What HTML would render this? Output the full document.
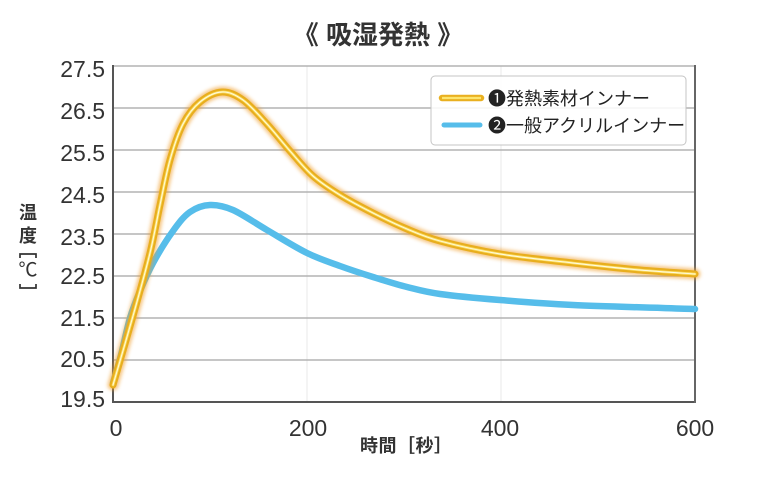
<!DOCTYPE html>
<html>
<head>
<meta charset="utf-8">
<style>
html,body{margin:0;padding:0;background:#fff;}
body{width:758px;height:482px;overflow:hidden;position:relative;}
svg{position:absolute;left:0;top:0;}
</style>
</head>
<body>
<svg width="758" height="482" viewBox="0 0 758 482" xmlns="http://www.w3.org/2000/svg">
  <defs>
    <filter id="glow" x="-10%" y="-10%" width="120%" height="120%">
      <feGaussianBlur stdDeviation="1.8"/>
    </filter>
    <path id="gp" d="M113,385 C116.3,373.5 126.8,338 133,316 C139.2,294 145.5,271.5 150,253 C154.5,234.5 156.7,220.5 160,205 C163.3,189.5 166.2,173.5 170,160 C173.8,146.5 178,133.7 183,124 C188,114.3 193.5,107.3 200,102 C206.5,96.7 214.8,92.3 222,92 C229.2,91.7 235.5,94.7 243,100 C250.5,105.3 259.2,115.5 267,124 C274.8,132.5 282.3,142.3 290,151 C297.7,159.7 304.7,168.7 313,176 C321.3,183.3 330,188.8 340,195 C350,201.2 361.8,207.3 373,213 C384.2,218.7 395.8,224.3 407,229 C418.2,233.7 424.5,236.8 440,241 C455.5,245.2 477.8,250.3 500,254 C522.2,257.7 549.7,260.3 573,263 C596.3,265.7 619.7,268.2 640,270 C660.3,271.8 685.8,273.3 695,274"/>
  </defs>

  <!-- Title -->
  <text x="378" y="44" text-anchor="middle" font-family="'Liberation Sans','Noto Sans CJK JP',sans-serif" font-size="26" font-weight="bold" fill="#333">《 吸湿発熱 》</text>

  <!-- vertical faint grid -->
  <line x1="307" y1="66" x2="307" y2="402" stroke="#e8e8e8" stroke-width="1"/>
  <line x1="501" y1="66" x2="501" y2="402" stroke="#e8e8e8" stroke-width="1"/>

  <!-- horizontal grid -->
  <g stroke="#b3b3b3" stroke-width="1.6">
    <line x1="113" y1="66" x2="695" y2="66"/>
    <line x1="113" y1="108" x2="695" y2="108"/>
    <line x1="113" y1="150" x2="695" y2="150"/>
    <line x1="113" y1="192" x2="695" y2="192"/>
    <line x1="113" y1="234" x2="695" y2="234"/>
    <line x1="113" y1="276" x2="695" y2="276"/>
    <line x1="113" y1="318" x2="695" y2="318"/>
    <line x1="113" y1="360" x2="695" y2="360"/>
  </g>

  <!-- axes -->
  <line x1="113" y1="65" x2="113" y2="403" stroke="#555" stroke-width="2"/>
  <line x1="112" y1="402" x2="696" y2="402" stroke="#555" stroke-width="2"/>
  <line x1="695" y1="65" x2="695" y2="403" stroke="#666" stroke-width="2"/>

  <!-- legend box -->
  <rect x="431" y="76" width="255" height="69" rx="4" ry="4" fill="rgba(255,255,255,0.88)" stroke="#c4c4c4" stroke-width="1"/>
  <line x1="442" y1="98" x2="481" y2="98" stroke="#f0a030" stroke-width="10" stroke-linecap="round" opacity="0.6" filter="url(#glow)"/>
  <line x1="442" y1="98" x2="481" y2="98" stroke="#e9b020" stroke-width="6.5" stroke-linecap="round"/>
  <line x1="442" y1="98" x2="481" y2="98" stroke="#fde56e" stroke-width="2.2"/>
  <line x1="444" y1="125" x2="480" y2="125" stroke="#56bdea" stroke-width="5" stroke-linecap="round"/>
  <text x="488" y="105" font-family="'Liberation Sans','Noto Sans CJK JP',sans-serif" font-size="18" fill="#222">❶発熱素材インナー</text>
  <text x="488" y="132" font-family="'Liberation Sans','Noto Sans CJK JP',sans-serif" font-size="18" fill="#222">❷一般アクリルインナー</text>

  <!-- Blue series -->
  <path d="M113,383 C114.3,378.3 118.2,365.8 121,355 C123.8,344.2 126.8,328.7 130,318 C133.2,307.3 136.2,300.2 140,291 C143.8,281.8 147.5,273 153,263 C158.5,253 166.8,239.5 173,231 C179.2,222.5 183.8,216.3 190,212 C196.2,207.7 202.8,205.3 210,205 C217.2,204.7 223.5,205.8 233,210 C242.5,214.2 254.7,222.8 267,230 C279.3,237.2 294.8,247 307,253 C319.2,259 329,262 340,266 C351,270 361.8,273.5 373,277 C384.2,280.5 395.8,284.2 407,287 C418.2,289.8 424.5,291.8 440,294 C455.5,296.2 477.8,298.2 500,300 C522.2,301.8 540.5,303.5 573,305 C605.5,306.5 674.7,308.3 695,309"
        fill="none" stroke="#56bdea" stroke-width="6.5" stroke-linecap="round" stroke-linejoin="round"/>

  <!-- Gold series -->
  <g fill="none" stroke-linecap="round" stroke-linejoin="round">
    <use href="#gp" stroke="#f0a030" stroke-width="11" opacity="0.6" filter="url(#glow)"/>
    <use href="#gp" stroke="#e8ae1e" stroke-width="7"/>
    <use href="#gp" stroke="#fbe066" stroke-width="2.6"/>
    <use href="#gp" stroke="#fffbe6" stroke-width="0.9"/>
  </g>

  <!-- Y tick labels -->
  <g font-family="'Liberation Sans',sans-serif" font-size="23" fill="#333" text-anchor="end">
    <text x="105" y="77">27.5</text>
    <text x="105" y="119">26.5</text>
    <text x="105" y="161">25.5</text>
    <text x="105" y="203">24.5</text>
    <text x="105" y="245">23.5</text>
    <text x="105" y="284">22.5</text>
    <text x="105" y="326">21.5</text>
    <text x="105" y="367">20.5</text>
    <text x="105" y="407">19.5</text>
  </g>

  <!-- X tick labels -->
  <g font-family="'Liberation Sans',sans-serif" font-size="23" fill="#333" text-anchor="middle">
    <text x="116" y="436">0</text>
    <text x="308" y="436">200</text>
    <text x="500" y="436">400</text>
    <text x="695" y="436">600</text>
  </g>

  <!-- X axis title -->
  <text x="360" y="452" font-family="'Liberation Sans','Noto Sans CJK JP',sans-serif" font-size="18" font-weight="bold" letter-spacing="0.5" fill="#333">時間［秒］</text>

  <!-- Y axis title -->
  <g font-family="'Liberation Sans','Noto Sans CJK JP',sans-serif" font-size="18" font-weight="bold" fill="#333" text-anchor="middle">
    <text x="28" y="219">温</text>
    <text x="28" y="242">度</text>
    <text x="28" y="276" font-weight="normal" font-size="19">℃</text>
  </g>
  <g fill="none" stroke="#333" stroke-width="1.7">
    <path d="M20,258 L20,254 L36,254 L36,258"/>
    <path d="M20,284 L20,288 L36,288 L36,284"/>
  </g>
</svg>
</body>
</html>
